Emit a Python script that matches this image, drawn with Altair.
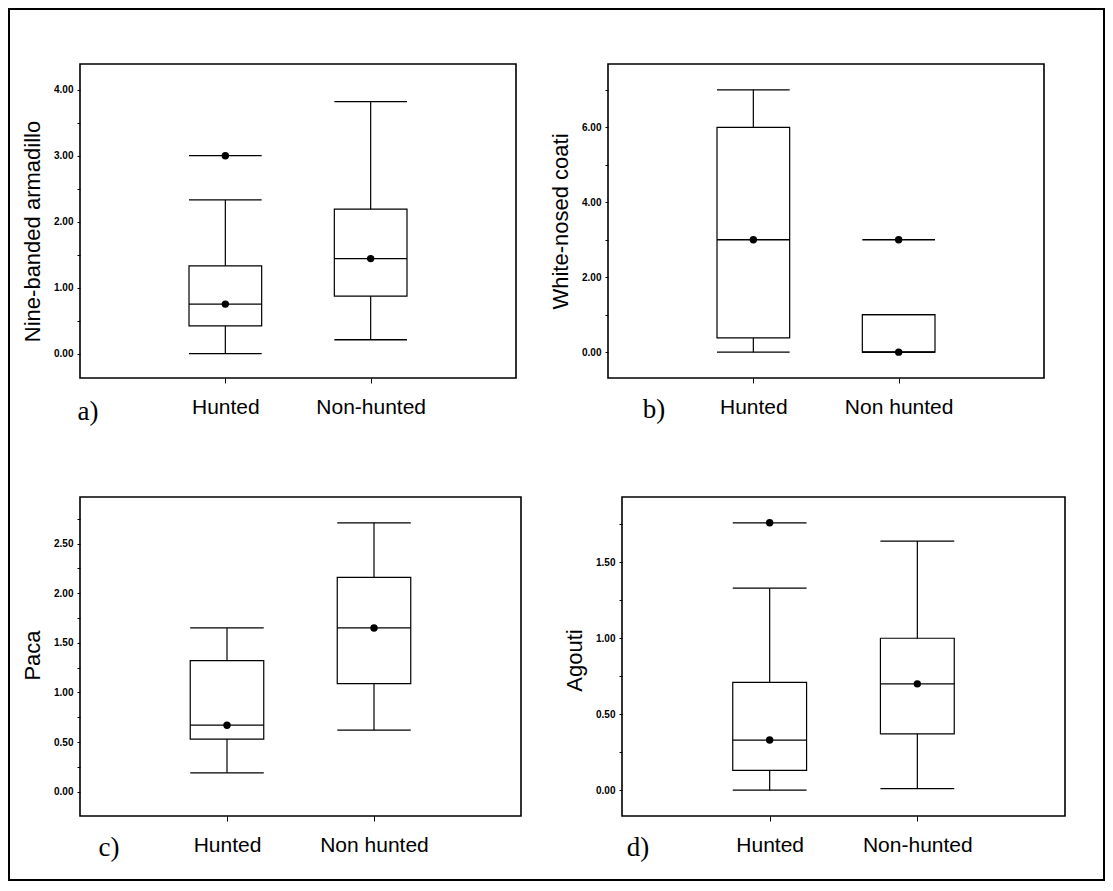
import altair as alt
import pandas as pd

# ---------------- data ----------------
positions = [1, 2]
panel_letters = ["a)", "b)", "c)", "d)"]
y_titles = ["Nine-banded armadillo", "White-nosed coati", "Paca", "Agouti"]
x_labels = [
    ["Hunted", "Non-hunted"],
    ["Hunted", "Non hunted"],
    ["Hunted", "Non hunted"],
    ["Hunted", "Non-hunted"],
]

whisker_low = [[0.00, 0.21], [0.00, 0.00], [0.19, 0.62], [0.00, 0.01]]
q1 = [[0.42, 0.87], [0.38, 0.00], [0.53, 1.09], [0.13, 0.37]]
median = [[0.75, 1.44], [3.00, 0.00], [0.67, 1.65], [0.33, 0.70]]
q3 = [[1.33, 2.19], [6.00, 1.00], [1.32, 2.16], [0.71, 1.00]]
whisker_high = [[2.33, 3.82], [7.00, 1.00], [1.65, 2.71], [1.33, 1.64]]

# isolated values drawn as a line with a dot
extreme_panel = [0, 1, 3]
extreme_pos = [1, 2, 1]
extreme_value = [3.00, 3.00, 1.76]

y_domains = [[-0.37, 4.39], [-0.69, 7.69], [-0.245, 2.97], [-0.17, 1.93]]
major_ticks = [[0, 1, 2, 3, 4], [0, 2, 4, 6], [0, 0.5, 1, 1.5, 2, 2.5], [0, 0.5, 1, 1.5]]
minor_ticks = [[0.5, 1.5, 2.5, 3.5], [1, 3, 5, 7],
               [0.25, 0.75, 1.25, 1.75, 2.25, 2.75], [0.25, 0.75, 1.25, 1.75]]
x_domain = [0, 3]
box_half = 0.25

# ---------------- style / layout ----------------
SANS = "Liberation Sans"
SERIF = "Liberation Serif"
plot_w = [436, 436, 441, 443]
plot_h = [314, 314, 319, 319]
inset = [0, 0, 0, 14]
title_y = [167, 157, 158, 163]
letter_xy = [(8, 348), (46, 346), (29, 351), (30, 351)]


def make_panel(i):
    W = plot_w[i] + inset[i]
    H = plot_h[i]
    xs = alt.Scale(domain=x_domain, range=[inset[i], W], nice=False, zero=False)
    ys = alt.Scale(domain=y_domains[i], nice=False, zero=False)
    names = x_labels[i]
    x_axis = alt.Axis(
        values=positions,
        labelExpr="[" + ",".join("'" + n + "'" for n in names) + "][datum.value - 1]",
        grid=False, domain=False, domainOpacity=0, ticks=True, tickSize=5,
        tickColor="black", tickWidth=1, labelFont=SANS, labelFontSize=21,
        labelColor="black", labelPadding=13, labelFlush=False, labelOverlap=False,
    )
    majors = major_ticks[i]
    all_ticks = sorted(majors + minor_ticks[i])
    y_axis = alt.Axis(
        values=all_ticks,
        labelExpr="indexof([" + ",".join(str(v) for v in majors)
        + "], datum.value) >= 0 ? format(datum.value, '.2f') : ''",
        grid=False, domain=False, domainOpacity=0, tickSize=3, tickColor="black",
        tickWidth=1, labelFont=SANS, labelFontSize=10, labelFontWeight="bold",
        labelColor="black", labelPadding=4, labelFlush=False, labelOverlap=False,
        titleFont=SANS, titleFontSize=22, titleFontWeight="normal", titleColor="black",
        titleX=-41, titleY=title_y[i], titleBaseline="alphabetic",
        offset=-inset[i],
    )

    def X(f):
        return alt.X(f, type="quantitative", scale=xs, axis=x_axis, title=None)

    def Y(f):
        return alt.Y(f, type="quantitative", scale=ys, axis=y_axis, title=y_titles[i])

    df = pd.DataFrame({
        "pos": positions, "wl": whisker_low[i], "q1": q1[i], "med": median[i],
        "q3": q3[i], "wh": whisker_high[i],
    })
    ext_pos = [p for k, p in zip(extreme_panel, extreme_pos) if k == i]
    ext_val = [v for k, v in zip(extreme_panel, extreme_value) if k == i]
    dots_df = pd.DataFrame({"pos": positions + ext_pos, "v": median[i] + ext_val})
    frame_df = pd.DataFrame({"x0": [x_domain[0]], "x1": [x_domain[1]],
                             "y0": [y_domains[i][0]], "y1": [y_domains[i][1]]})

    calc = dict(xl="datum.pos - %f" % box_half, xr="datum.pos + %f" % box_half)
    base = alt.Chart(df).transform_calculate(**calc)

    frame = alt.Chart(frame_df).mark_rect(
        fill="white", fillOpacity=0, stroke="black", strokeWidth=1.6
    ).encode(x=X("x0"), x2="x1", y=Y("y0"), y2="y1")

    w_lo = base.mark_rule(color="black", strokeWidth=1.2).encode(
        x=X("pos"), y=Y("wl"), y2="q1")
    w_hi = base.mark_rule(color="black", strokeWidth=1.2).encode(
        x=X("pos"), y=Y("q3"), y2="wh")
    caps = base.transform_fold(["wl", "wh"], as_=["k", "v"]).mark_rule(
        color="black", strokeWidth=1.3).encode(x=X("xl"), x2="xr", y=Y("v:Q"))
    box = base.mark_rect(fill="white", fillOpacity=0, stroke="black",
                         strokeWidth=1.2).encode(x=X("xl"), x2="xr", y=Y("q1"), y2="q3")
    med = base.mark_rule(color="black", strokeWidth=1.3).encode(
        x=X("xl"), x2="xr", y=Y("med"))
    dots = alt.Chart(dots_df).mark_circle(size=55, color="black", opacity=1).encode(
        x=X("pos"), y=Y("v"))

    layers = [frame, w_lo, w_hi, caps, box, med]
    if ext_pos:
        ext_df = pd.DataFrame({"pos": ext_pos, "v": ext_val})
        ext = alt.Chart(ext_df).transform_calculate(**calc).mark_rule(
            color="black", strokeWidth=1.3).encode(x=X("xl"), x2="xr", y=Y("v"))
        layers.append(ext)
    layers.append(dots)

    lx, ly = letter_xy[i]
    letter = alt.Chart(pd.DataFrame({"letter": [panel_letters[i]]})).mark_text(
        font=SERIF, fontSize=27, color="black", align="center", baseline="middle"
    ).encode(x=alt.value(lx), y=alt.value(ly), text="letter:N")
    layers.append(letter)

    if i == 0:
        border = alt.Chart(pd.DataFrame({"b": [0]})).mark_rect(
            fill="white", fillOpacity=0, stroke="black", strokeWidth=2
        ).encode(x=alt.value(-71), x2=alt.value(1024), y=alt.value(-55), y2=alt.value(816))
        layers.append(border)

    return alt.layer(*layers).properties(
        width=W, height=H,
        view=alt.ViewBackground(stroke="transparent", strokeWidth=0,
                                strokeOpacity=0, fill="transparent"),
    )


panels = [make_panel(i) for i in range(4)]

chart = alt.concat(
    *panels, columns=2, spacing={"row": 119, "column": 87}
).properties(
    bounds="flush", padding=0, background="white"
).configure_view(
    stroke="transparent", strokeWidth=0, strokeOpacity=0
).configure_axis(
    domain=False, grid=False
).configure(font=SANS)

chart.save("out.html", embed_options={"renderer": "svg", "actions": False})
